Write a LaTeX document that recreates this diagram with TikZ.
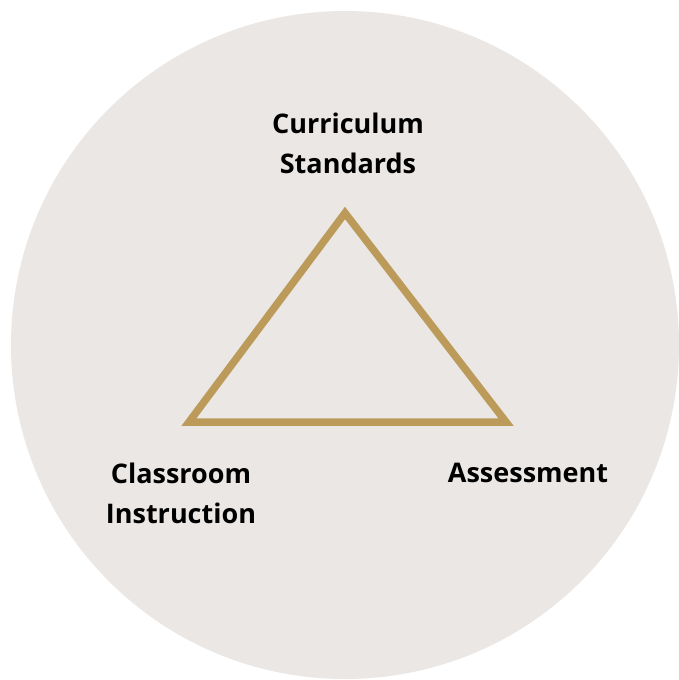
\documentclass[tikz,border=0pt]{standalone}
\usepackage{fontspec}
\setmainfont{Open Sans}
\definecolor{discgrey}{HTML}{EBE7E4}
\definecolor{gold}{HTML}{BC9B5A}

\begin{document}
\begin{tikzpicture}[x = 1pt, y = -1pt,
    every node/.style = {font = \bfseries\fontsize{27}{40}\selectfont, align = center, inner sep = 0pt}]
    \useasboundingbox (0,0) rectangle (678,680);
    \fill[discgrey] (345,345) circle[radius = 334];
    % corners of the triangle
    \coordinate (top) at (345,213);
    \coordinate (left) at (189,422);
    \coordinate (right) at (506,422);
    \draw[gold, line width = 7.5pt, miter limit = 10] (top) -- (right) -- (left) -- cycle;
    % labels
    \node (curriculum) at (348,143) {Curriculum\\Standards};
    \node (classroom) at (181,493) {Classroom\\Instruction};
    \node (assessment) at (528,473) {Assessment};
\end{tikzpicture}
\end{document}
